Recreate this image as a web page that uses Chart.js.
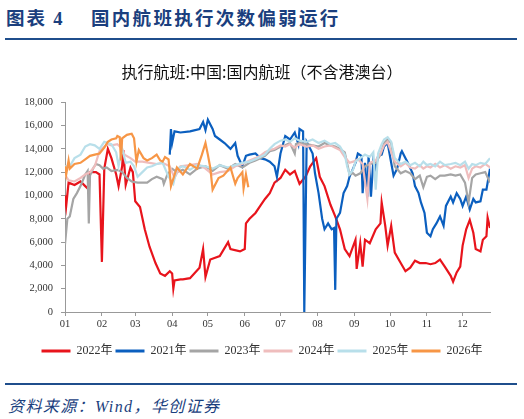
<!DOCTYPE html>
<html lang="zh">
<head>
  <meta charset="UTF-8" />
  <title>国内航班执行次数</title>
  <script src="https://cdn.jsdelivr.net/npm/chart.js"></script>
  <style>
    body { margin: 0; width: 524px; height: 419px; background: #fff; overflow: hidden; position: relative; }
    .head { position: absolute; top: 4px; font-family: 'Noto Sans CJK SC', sans-serif; font-weight: bold; font-size: 18.5px; color: #1b3f7e; white-space: pre; }
    .rule { position: absolute; left: 5px; width: 512px; height: 2px; background: #1f4e8c; }
    .src { position: absolute; left: 8px; top: 393px; font-family: 'Liberation Serif', 'Noto Sans CJK SC', serif; font-style: italic; font-size: 16px; color: #1b3f7e; letter-spacing: 1.4px; }
    #wrap { position: absolute; left: 0; top: 0; width: 524px; height: 367px; }
  </style>
</head>
<body>
  <div class="head" style="left:6px; letter-spacing:2px">图表 <span style="font-family:'Liberation Serif',serif">4</span></div>
  <div class="head" style="left:91px; letter-spacing:2.3px">国内航班执行次数偏弱运行</div>
  <div class="rule" style="top:38px"></div>
  <div id="wrap"><canvas id="c"></canvas></div>
  <div class="rule" style="top:383px"></div>
  <div class="src">资料来源：Wind，华创证券</div>

  <script>
    // x = day of year (0 = 1 Jan)
    const monthStarts = [0, 31, 59, 90, 120, 151, 181, 212, 243, 273, 304, 334];
    const monthLabels = ["01", "02", "03", "04", "05", "06", "07", "08", "09", "10", "11", "12"];

    const days2022 = [0,1,3,8,13,17,20,21,26,29,31,33,36,39,43,45,48,49,51,55,57,59,63,67,71,76,80,84,88,90,91,92,97,99,105,113,116,118,122,130,137,139,147,151,152,155,160,164,168,172,176,181,185,189,193,197,202,206,211,214,218,223,227,231,235,239,244,245,248,250,252,256,261,265,266,269,271,274,277,282,286,290,294,298,303,307,311,315,319,324,326,329,332,334,337,340,343,345,349,351,354,355,357];
    const vals2022 = [10000,9100,11100,10900,11200,10800,10500,12000,12000,11800,4300,12300,14000,13200,11800,10800,12500,13900,10900,12400,12000,9500,9000,7100,5600,4200,3300,3100,3500,3300,2000,2700,2800,2800,2900,3800,5400,3000,4500,4800,6000,5400,5200,5400,7600,8000,8500,9100,9700,10200,11100,11500,12200,11800,12100,11000,11600,12500,13200,11600,10800,9200,8200,7100,5400,4800,6200,3700,5900,3900,6200,5900,7100,7600,9400,7400,5700,7400,5100,4200,3500,3800,4400,4200,4200,4100,4200,4500,3900,3100,2600,3400,3900,5700,7100,7900,6800,5400,5200,6200,6500,8100,7200];

    const days2021 = [88,89,90,92,97,105,113,116,118,120,124,126,130,134,139,143,145,149,152,155,160,164,168,172,176,178,181,185,189,193,196,197,200,201,203,208,210,213,216,218,221,224,226,227,228,231,234,237,239,242,244,246,249,250,252,254,255,257,259,261,263,266,268,271,274,276,279,282,283,286,288,292,294,297,299,302,304,307,309,312,315,318,320,324,326,329,332,334,337,340,343,345,349,351,354,356,357];
    const vals2021 = [13500,15700,14500,15500,15400,15500,15700,16300,15600,16500,15700,15100,14800,14500,14000,14500,13400,12500,13400,13500,13600,13200,13100,12900,12500,11600,13600,15100,14800,15400,14400,15700,15500,0,14600,13600,11900,10200,8000,7100,7600,7100,7200,1900,8000,8500,10200,10800,11600,12300,12800,13600,13400,10200,12800,9900,13400,9900,13000,12300,13400,13500,14200,14500,12800,11700,12300,13600,13800,13200,12800,11900,10800,10200,9400,8500,6800,6500,7100,7600,8200,7400,9100,9900,9400,10200,9700,9100,9900,8800,9700,9400,9500,10500,10500,11700,12300];

    const days2023 = [0,2,4,7,10,13,17,19,20,21,24,26,29,32,35,39,44,48,52,56,61,65,69,73,77,82,83,86,90,94,99,105,111,118,124,130,137,143,149,155,160,164,168,172,176,181,185,189,193,194,197,203,208,213,218,223,227,231,235,239,242,244,248,252,256,261,265,268,271,274,277,282,286,290,294,298,301,304,307,311,315,319,324,328,332,336,339,342,345,349,353,357];
    const vals2023 = [5800,8000,8200,9700,10200,10800,11800,12100,7600,11700,12400,12700,12600,12300,12400,12100,12200,12000,11500,11200,11100,11100,11100,11400,11600,11400,11000,11800,12300,12000,12200,11800,12300,12500,12100,12600,12300,12700,12400,12800,13000,13200,13400,13800,13900,14200,14300,14500,13600,14400,14500,14400,14300,14200,14500,14300,14200,14000,13700,11800,11900,11700,11900,12500,12700,12800,13500,14500,14800,14500,12500,11900,12100,11900,11400,11700,10700,11600,11700,11400,11700,11700,11800,11700,11800,11100,9400,11500,11800,11900,12000,11100];

    const days2024 = [0,3,8,13,17,21,25,29,33,36,39,44,48,50,55,59,65,71,77,82,88,92,97,105,111,118,124,130,137,143,149,155,160,164,168,172,176,181,185,189,193,197,203,208,213,218,223,227,231,235,239,242,246,250,254,256,261,265,268,271,274,277,282,286,290,294,298,301,304,307,311,315,319,324,328,332,336,339,342,345,349,353,357];
    const vals2024 = [11800,11300,11200,11500,11800,12000,12500,13800,14200,14400,14300,14400,14000,13500,13200,12900,12900,12800,12700,12800,12500,11500,12500,12600,12700,12300,11800,12000,12100,12500,12700,13000,13200,13400,13700,13900,14000,14300,14200,14400,14100,14400,14200,14300,14000,14200,14300,14100,13900,13300,12800,12900,13100,12700,9700,12800,13000,13600,14300,14600,13700,12900,12500,12800,12400,12300,12600,12300,12500,12400,12700,12400,12600,12300,12500,12400,12600,11500,12300,12500,12400,12700,12400];

    const days2025 = [0,4,8,13,17,21,25,29,33,36,39,43,45,48,51,55,58,61,65,69,73,77,82,87,91,94,99,105,111,118,124,130,137,143,149,155,160,164,168,172,176,181,185,189,193,197,203,208,213,218,223,227,231,235,237,239,242,244,248,252,256,259,261,263,266,268,271,274,277,282,286,290,294,298,301,304,307,311,315,319,324,328,332,336,339,342,345,349,353,357];
    const vals2025 = [12500,12500,13200,13500,14200,14400,14300,14000,14600,14500,14400,13700,12500,14000,12800,12900,12500,11600,12000,12400,12500,12700,12800,11600,11000,12300,12500,12200,12600,12500,12300,12600,12400,12600,12800,12900,13100,13300,13500,14000,14400,14700,14800,14600,14900,14700,14600,14800,14500,14700,14400,14500,14200,13500,12500,11800,12200,12900,13200,13500,13300,13700,10500,13600,14400,14800,15000,14600,13200,12700,12900,12600,12800,12500,12900,12600,12700,12500,12900,12600,12700,12800,12600,12900,12300,12700,12600,12800,12700,13200];

    const days2026 = [0,1,3,4,8,13,17,21,25,29,33,36,39,43,44,46,47,48,52,56,58,60,62,66,69,73,77,80,82,84,87,89,94,99,105,111,115,118,120,122,124,129,133,139,143,145,149,150,152,154];
    const vals2026 = [12500,11800,13000,12300,12700,12800,13100,13400,13500,13600,14100,14600,14800,14900,15100,15000,13000,14900,15200,15300,14900,12900,13900,13200,13000,13200,13500,13000,12900,13300,13100,10800,12400,11800,12700,12300,13500,14500,13500,12400,10500,11500,11700,12400,11000,11500,12000,10600,11800,10700];

    const yTicks = [0, 2000, 4000, 6000, 8000, 10000, 12000, 14000, 16000, 18000];

    const series = [
      { label: "2022年", days: days2022, vals: vals2022, color: "#e8141c" },
      { label: "2021年", days: days2021, vals: vals2021, color: "#0b5fbf" },
      { label: "2023年", days: days2023, vals: vals2023, color: "#a5a5a5" },
      { label: "2024年", days: days2024, vals: vals2024, color: "#efbdbd" },
      { label: "2025年", days: days2025, vals: vals2025, color: "#b8dfea" },
      { label: "2026年", days: days2026, vals: vals2026, color: "#f79646" }
    ];

    const serif = "'Liberation Serif', 'Noto Sans CJK SC', serif";

    new Chart(document.getElementById("c"), {
      type: "line",
      data: {
        datasets: series.map((s, i) => ({
          label: s.label,
          data: s.days.map((d, k) => ({ x: d, y: s.vals[k] })),
          borderColor: s.color,
          backgroundColor: s.color,
          borderWidth: 2.2,
          pointRadius: 0,
          tension: 0,
          order: series.length - i   // later years drawn on top
        }))
      },
      options: {
        responsive: true,
        maintainAspectRatio: false,
        animation: false,
        layout: { padding: 0 },
        scales: {
          x: {
            type: "linear",
            min: 0,
            max: 357,
            afterBuildTicks: s => { s.ticks = monthStarts.map(v => ({ value: v })); },
            afterFit: s => { s.height = 30; },
            ticks: {
              autoSkip: false,
              maxRotation: 0,
              padding: 2,
              color: "#333",
              font: { family: serif, size: 10.5 },
              callback: (v, i) => monthLabels[i]
            },
            grid: { drawOnChartArea: false, tickLength: 4, color: "#999" },
            border: { color: "#999" }
          },
          y: {
            min: 0,
            max: 18000,
            afterBuildTicks: s => { s.ticks = yTicks.map(v => ({ value: v })); },
            afterFit: s => { s.width = 65; },
            ticks: {
              padding: 8,
              color: "#333",
              font: { family: serif, size: 10.5 },
              callback: v => v.toLocaleString("en-US")
            },
            grid: { drawOnChartArea: false, tickLength: 4, color: "#999" },
            border: { color: "#999" }
          },
          // empty right-hand axis: reserves space so title and legend stay centred on the page
          yRight: {
            position: "right",
            display: true,
            afterFit: s => { s.width = 34; },
            ticks: { display: false },
            grid: { display: false },
            border: { display: false }
          }
        },
        plugins: {
          title: {
            display: true,
            text: "执行航班:中国:国内航班（不含港澳台）",
            color: "#111",
            font: { family: "'Noto Sans CJK SC', sans-serif", size: 16, weight: "normal" },
            padding: { top: 62, bottom: 21 }
          },
          legend: {
            position: "bottom",
            labels: {
              boxWidth: 29,
              boxHeight: 3,
              padding: 3,
              color: "#333",
              font: { family: serif, size: 12 },
              sort: (a, b) => a.datasetIndex - b.datasetIndex,
              generateLabels: chart => Chart.defaults.plugins.legend.labels.generateLabels(chart).map(l => ({ ...l, lineWidth: 0 }))
            }
          },
          tooltip: { enabled: false }
        }
      }
    });
  </script>
</body>
</html>
